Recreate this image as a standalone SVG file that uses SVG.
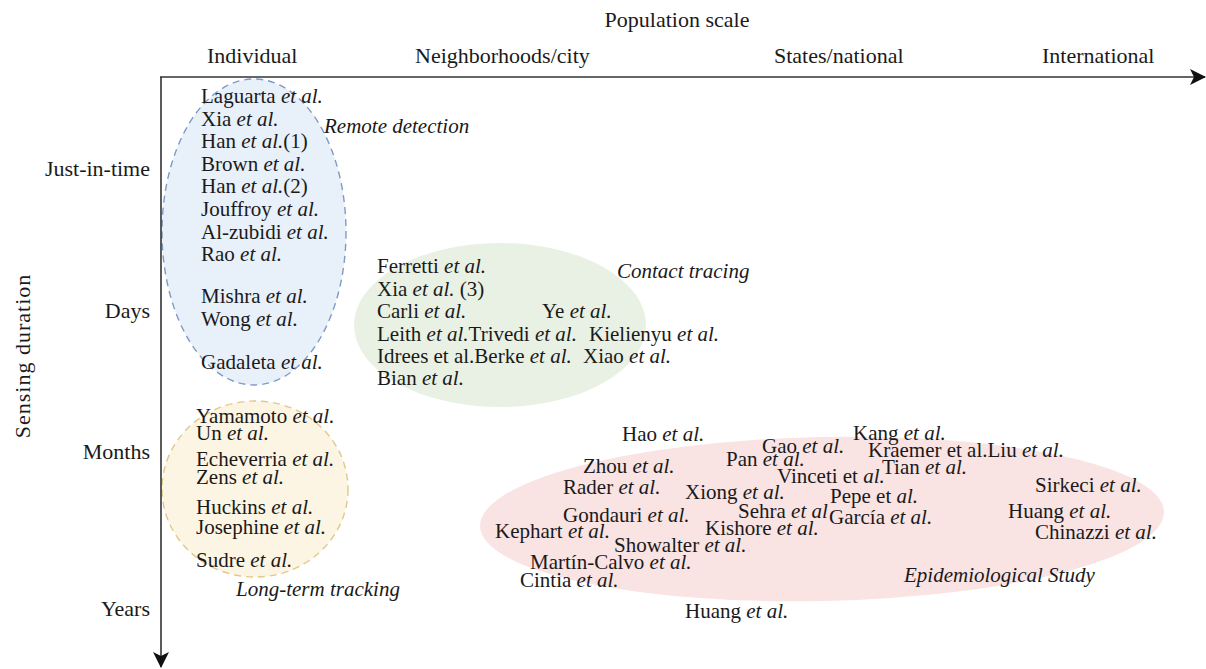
<svg xmlns="http://www.w3.org/2000/svg" width="1206" height="669" viewBox="0 0 1206 669">
<style>
.t{font-family:"Liberation Serif","Times New Roman",serif;font-size:21px;fill:#1a1a1a}
.h{font-size:22px}
.i{font-style:italic}
.ax{stroke:#333;stroke-width:1.6;fill:none}
</style>
<defs>
<marker id="arrow" viewBox="0 0 16 16" refX="15" refY="8" markerWidth="16" markerHeight="16" orient="auto" markerUnits="userSpaceOnUse">
<path d="M0,0 L16,8 L0,16 L4,8 z" fill="#111"/>
</marker>
</defs>
<rect width="1206" height="669" fill="#fff"/>

<g id="epidemiological-study">
<ellipse cx="822" cy="519" rx="342" ry="82" transform="rotate(-1.2 822 519)" fill="#f9e3e3"/>
<text class="t" x="622" y="441">Hao <tspan class="i">et al.</tspan></text>
<text class="t" x="762" y="453">Gao <tspan class="i">et al.</tspan></text>
<text class="t" x="853" y="440">Kang <tspan class="i">et al.</tspan></text>
<text class="t" x="868" y="457">Kraemer et al.Liu <tspan class="i">et al.</tspan></text>
<text class="t" x="583" y="473">Zhou <tspan class="i">et al.</tspan></text>
<text class="t" x="726" y="466">Pan <tspan class="i">et al.</tspan></text>
<text class="t" x="777" y="483">Vinceti et <tspan class="i">al.</tspan></text>
<text class="t" x="882" y="474">Tian <tspan class="i">et al.</tspan></text>
<text class="t" x="563" y="494">Rader <tspan class="i">et al.</tspan></text>
<text class="t" x="685" y="499">Xiong <tspan class="i">et al.</tspan></text>
<text class="t" x="830" y="503">Pepe et <tspan class="i">al.</tspan></text>
<text class="t" x="1035" y="492">Sirkeci <tspan class="i">et al.</tspan></text>
<text class="t" x="563" y="522">Gondauri <tspan class="i">et al.</tspan></text>
<text class="t" x="738" y="518">Sehra <tspan class="i">et al</tspan></text>
<text class="t" x="829" y="524">García <tspan class="i">et al.</tspan></text>
<text class="t" x="705" y="535">Kishore <tspan class="i">et al.</tspan></text>
<text class="t" x="1008" y="518">Huang <tspan class="i">et al.</tspan></text>
<text class="t" x="495" y="538">Kephart <tspan class="i">et al.</tspan></text>
<text class="t" x="614" y="552">Showalter <tspan class="i">et al.</tspan></text>
<text class="t" x="1035" y="539">Chinazzi <tspan class="i">et al.</tspan></text>
<text class="t" x="530" y="569">Martín-Calvo <tspan class="i">et al.</tspan></text>
<text class="t" x="520" y="587">Cintia <tspan class="i">et al.</tspan></text>
<text class="t i" x="904" y="582">Epidemiological Study</text>
<text class="t" x="685" y="618">Huang <tspan class="i">et al.</tspan></text>
</g>

<g id="contact-tracing">
<ellipse cx="500" cy="325" rx="146" ry="82" fill="#e9f1e4"/>
<text class="t" x="377" y="273">Ferretti <tspan class="i">et al.</tspan></text>
<text class="t" x="377" y="296">Xia <tspan class="i">et al.</tspan> (3)</text>
<text class="t" x="377" y="318">Carli <tspan class="i">et al.</tspan></text>
<text class="t" x="542" y="318">Ye <tspan class="i">et al.</tspan></text>
<text class="t" x="377" y="341">Leith <tspan class="i">et al.</tspan>Trivedi <tspan class="i">et al.</tspan></text>
<text class="t" x="589" y="341">Kielienyu <tspan class="i">et al.</tspan></text>
<text class="t" x="377" y="363">Idrees et al.Berke <tspan class="i">et al.</tspan></text>
<text class="t" x="583" y="363">Xiao <tspan class="i">et al.</tspan></text>
<text class="t" x="377" y="385">Bian <tspan class="i">et al.</tspan></text>
<text class="t i" x="617" y="278">Contact tracing</text>
</g>

<g id="remote-detection">
<ellipse cx="254" cy="232" rx="92" ry="153" fill="#e8f0fa" stroke="#7f9bc4" stroke-width="1.4" stroke-dasharray="7 5"/>
<text class="t" x="201" y="103">Laguarta <tspan class="i">et al.</tspan></text>
<text class="t" x="201" y="126">Xia <tspan class="i">et al.</tspan></text>
<text class="t" x="201" y="148">Han <tspan class="i">et al.</tspan>(1)</text>
<text class="t" x="201" y="171">Brown <tspan class="i">et al.</tspan></text>
<text class="t" x="201" y="193">Han <tspan class="i">et al.</tspan>(2)</text>
<text class="t" x="201" y="216">Jouffroy <tspan class="i">et al.</tspan></text>
<text class="t" x="201" y="239">Al-zubidi <tspan class="i">et al.</tspan></text>
<text class="t" x="201" y="261">Rao <tspan class="i">et al.</tspan></text>
<text class="t" x="201" y="303">Mishra <tspan class="i">et al.</tspan></text>
<text class="t" x="201" y="326">Wong <tspan class="i">et al.</tspan></text>
<text class="t" x="201" y="369">Gadaleta <tspan class="i">et al.</tspan></text>
<text class="t i" x="324" y="133">Remote detection</text>
</g>

<g id="long-term-tracking">
<ellipse cx="255" cy="489" rx="93" ry="88" fill="#fdf5e3" stroke="#e2c887" stroke-width="1.4" stroke-dasharray="7 5"/>
<text class="t" x="196" y="423">Yamamoto <tspan class="i">et al.</tspan></text>
<text class="t" x="196" y="440">Un <tspan class="i">et al.</tspan></text>
<text class="t" x="196" y="466">Echeverria <tspan class="i">et al.</tspan></text>
<text class="t" x="196" y="484">Zens <tspan class="i">et al.</tspan></text>
<text class="t" x="196" y="514">Huckins <tspan class="i">et al.</tspan></text>
<text class="t" x="196" y="534">Josephine <tspan class="i">et al.</tspan></text>
<text class="t" x="196" y="567">Sudre <tspan class="i">et al.</tspan></text>
<text class="t i" x="236" y="596">Long-term tracking</text>
</g>

<g id="axes">
<line class="ax" x1="160" y1="77" x2="1205" y2="77" marker-end="url(#arrow)"/>
<line class="ax" x1="161" y1="77" x2="161" y2="667" marker-end="url(#arrow)"/>
</g>

<g id="axis-labels">
<text class="t h" x="677" y="27" text-anchor="middle">Population scale</text>
<text class="t h" x="207" y="63">Individual</text>
<text class="t h" x="415" y="63">Neighborhoods/city</text>
<text class="t h" x="774" y="63">States/national</text>
<text class="t h" x="1042" y="63">International</text>
<text class="t h" x="150" y="176" text-anchor="end">Just-in-time</text>
<text class="t h" x="150" y="318" text-anchor="end">Days</text>
<text class="t h" x="150" y="459" text-anchor="end">Months</text>
<text class="t h" x="150" y="616" text-anchor="end">Years</text>
<text class="t h" x="0" y="0" text-anchor="middle" letter-spacing="1" transform="translate(30 356) rotate(-90)">Sensing duration</text>
</g>
</svg>
